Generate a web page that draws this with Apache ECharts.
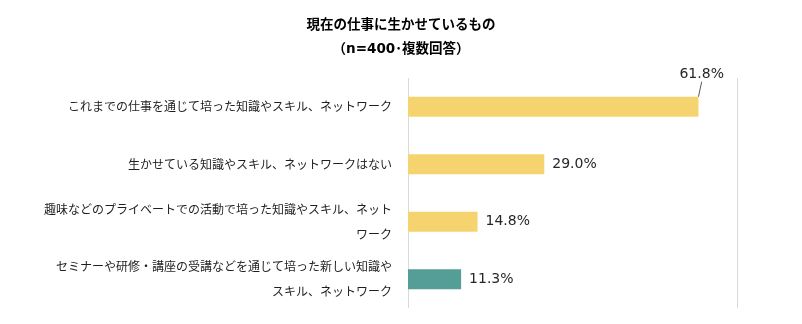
<!DOCTYPE html>
<html>
<head>
<meta charset="utf-8">
<script src="https://cdn.jsdelivr.net/npm/echarts@6/dist/echarts.min.js"></script>
<style>
html, body { margin: 0; padding: 0; background: #fff; }
#chart { width: 802px; height: 324px; }
</style>
</head>
<body>
<div id="chart"></div>
<script>
// Survey: what people can draw on in their current job (n=400, multiple answers)
const titleText = '現在の仕事に生かせているもの\n（n=400･複数回答）';
const categories = [
  'これまでの仕事を通じて培った知識やスキル、ネットワーク',
  '生かせている知識やスキル、ネットワークはない',
  '趣味などのプライベートでの活動で培った知識やスキル、ネット\nワーク',
  'セミナーや研修・講座の受講などを通じて培った新しい知識や\nスキル、ネットワーク'
];
const values = [61.8, 29.0, 14.8, 11.3];
const barColors = ['#F5D46F', '#F5D46F', '#F5D46F', '#549E97'];
const axisMax = 70;

const chart = echarts.init(document.getElementById('chart'), null, { renderer: 'canvas' });

const seriesData = values.map((v, i) => {
  const item = { value: v, itemStyle: { color: barColors[i] } };
  if (i === 0) {
    item.labelLine = { show: true, lineStyle: { color: '#595959', width: 1 } };
  }
  return item;
});

chart.setOption({
  animation: false,
  backgroundColor: '#ffffff',
  title: {
    text: titleText,
    left: 'center',
    top: 8,
    textStyle: {
      fontFamily: '"DejaVu Sans", "Noto Sans CJK JP", sans-serif',
      fontSize: 13.5,
      fontWeight: 'bold',
      color: '#000000',
      lineHeight: 24
    }
  },
  grid: { left: 408, right: 65, top: 78, bottom: 16, containLabel: false },
  xAxis: {
    type: 'value',
    min: 0,
    max: axisMax,
    interval: axisMax,
    axisLine: { show: false },
    axisTick: { show: false },
    axisLabel: { show: false },
    splitLine: { show: true, lineStyle: { color: '#D9D9D9', width: 1 } }
  },
  yAxis: {
    type: 'category',
    inverse: true,
    data: categories,
    axisLine: { show: false },
    axisTick: { show: false },
    axisLabel: {
      margin: 16,
      align: 'right',
      fontFamily: '"Noto Sans CJK JP", sans-serif',
      fontSize: 12,
      lineHeight: 25,
      color: '#1F1F1F'
    }
  },
  series: [{
    type: 'bar',
    data: seriesData,
    barWidth: 20,
    label: {
      show: true,
      position: 'right',
      distance: 8,
      formatter: p => p.value.toFixed(1) + '%',
      fontFamily: '"DejaVu Sans", sans-serif',
      fontSize: 14,
      color: '#262626'
    },
    labelLayout: p => (p.dataIndex === 0 ? { dx: -27, dy: -32 } : {})
  }]
});
</script>
</body>
</html>
